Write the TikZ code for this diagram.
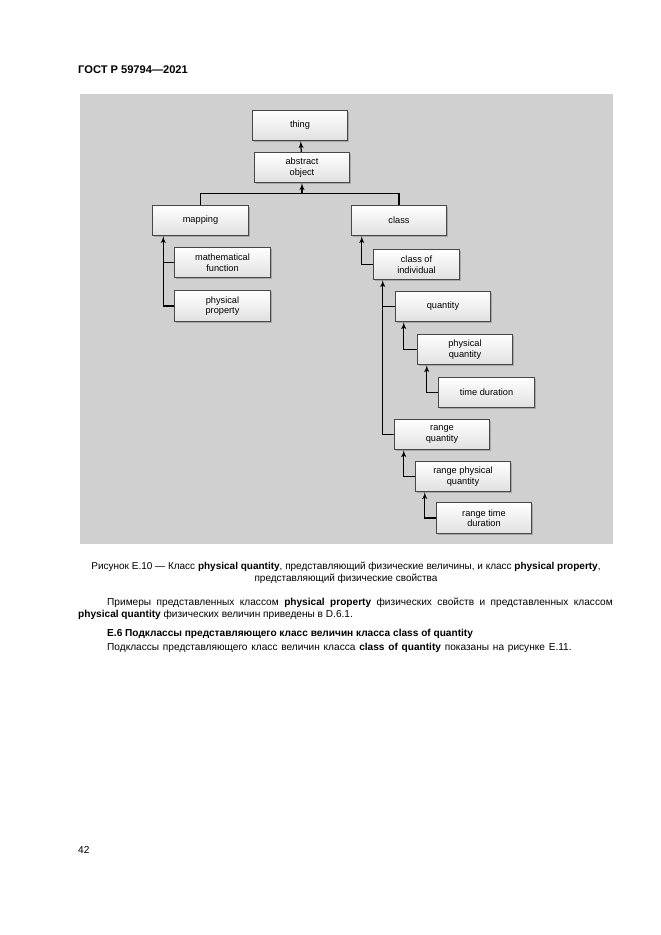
\documentclass[tikz,border=0pt]{standalone}
\usepackage{fontspec}
\setmainfont{Liberation Sans}
\usetikzlibrary{arrows}
\usetikzlibrary{calc}
\usetikzlibrary{shadows}
\tikzstyle{line} = [draw, line width=1.1pt, -latex']
\definecolor{panelgray}{HTML}{D0D0D0}

\begin{document}
\begin{tikzpicture}[x=0.9pt, y=-0.9pt,
			entity/.style={draw=black!72, line width=0.8pt, rectangle, minimum width=86pt, minimum height=27.5pt, inner sep=1pt,
				top color=white, bottom color=black!12,
				drop shadow={shadow xshift=1.3pt, shadow yshift=-1.3pt, fill=black!50},
				font=\fontsize{8.3}{9.5}\selectfont},
			textline/.style={anchor=west, inner sep=0pt, font=\fontsize{9.1}{10.8}\selectfont},
			every text node part/.style={align=center}]
			\useasboundingbox (0,0) rectangle (661,935);
			\fill[white] (0,0) rectangle (661,935);
			
			\node[textline, font=\bfseries\fontsize{10}{12}\selectfont] (header) at (78,70) {ГОСТ Р 59794—2021};
			
			\fill[panelgray] (80,94) rectangle (613,544);
			
			\node[entity](thing) at (300,125.5) {thing};
			\node[entity](abstract) at (302,167.5) {abstract\\object};
			\draw[line] (abstract) -- (thing);
			
			\node[entity](mapping) at (200.5,220.5) {mapping};
			\node[entity](class) at (399,220.5) {class};
			\coordinate (fork) at ($(abstract.south)+(0,10)$);
			\draw[line width=1.1pt] (mapping.north) |- (fork) -| (class.north);
			\draw[line] (fork) -- (abstract.south);
			
			\node[entity](mathfn) at (222.5,262.5) {mathematical\\function};
			\node[entity](physprop) at (222.5,306) {physical\\property};
			\coordinate (mapleg) at ($(mapping.south west)+(11,0)$);
			\draw[line] (physprop.west) -| (mapleg);
			\draw[line width=1.1pt] (mathfn.west) -- (mathfn.west -| mapleg);
			
			\node[entity, minimum width=78pt](classind) at (416.5,264.5) {class of\\individual};
			\draw[line] (classind.west) -| ($(class.south west)+(11,0)$);
			
			\node[entity](quantity) at (443,306.5) {quantity};
			\node[entity](physqty) at (465,349.5) {physical\\quantity};
			\node[entity](timedur) at (486.5,392.5) {time duration};
			\node[entity](rangeqty) at (442,434.5) {range\\quantity};
			\node[entity](rangephys) at (463,476.5) {range physical\\quantity};
			\node[entity](rangetime) at (484,518) {range time\\duration};
			
			\coordinate (indleg) at ($(classind.south west)+(10,0)$);
			\draw[line] (rangeqty.west) -| (indleg);
			\draw[line width=1.1pt] (quantity.west) -- (quantity.west -| indleg);
			\draw[line] (physqty.west) -| ($(quantity.south west)+(9,0)$);
			\draw[line] (timedur.west) -| ($(physqty.south west)+(10,0)$);
			\draw[line] (rangephys.west) -| ($(rangeqty.south west)+(10,0)$);
			\draw[line] (rangetime.west) -| ($(rangephys.south west)+(10,0)$);
			
			\node[align=center, inner sep=0pt, font=\fontsize{9}{10.8}\selectfont](caption) at (346,573) {Рисунок Е.10 — Класс \textbf{physical quantity}, представляющий физические величины, и класс \textbf{physical property},\\представляющий физические свойства};
			
			\node[textline](para1) at (107,603) {\makebox[455pt][s]{Примеры представленных классом \textbf{physical property} физических свойств и представленных классом}};
			\node[textline](para2) at (78,615) {\textbf{physical quantity} физических величин приведены в D.6.1.};
			\node[textline, font=\bfseries\fontsize{9.1}{10.8}\selectfont](heading) at (107,634) {Е.6 Подклассы представляющего класс величин класса class of quantity};
			\node[textline](para3) at (107,648) {\makebox[418pt][s]{Подклассы представляющего класс величин класса \textbf{class of quantity} показаны на рисунке Е.11.}};
			
			\node[textline](pagenum) at (78,850) {42};
		\end{tikzpicture}
\end{document}
